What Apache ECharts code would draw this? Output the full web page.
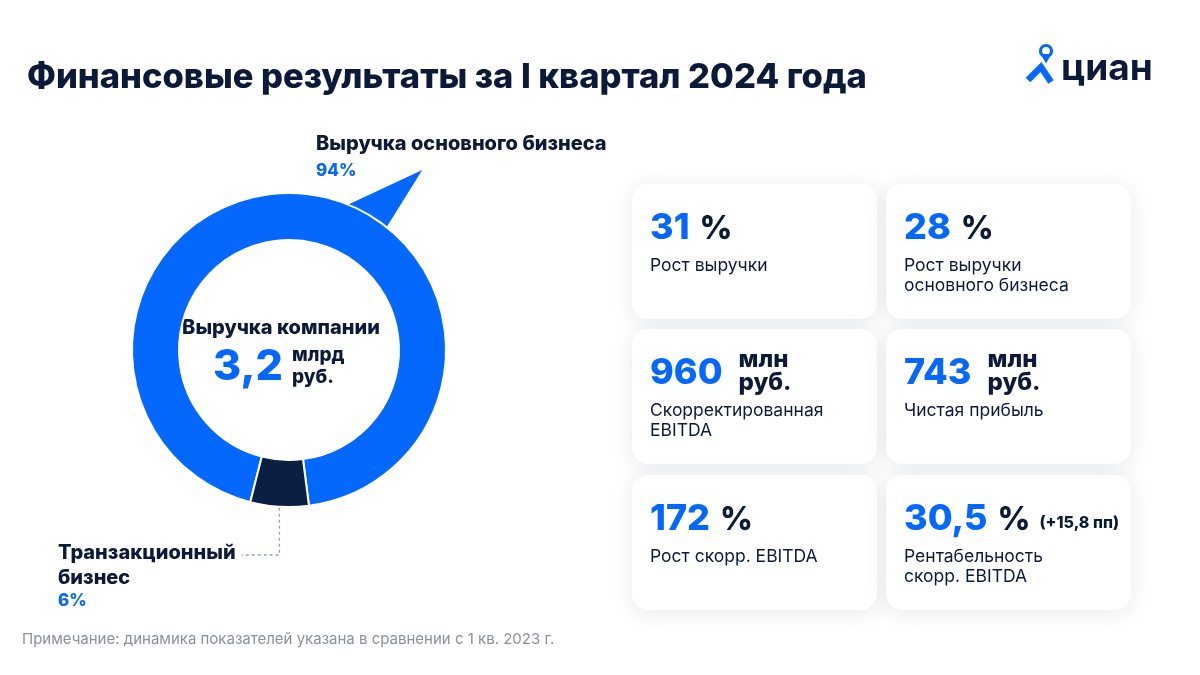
<!DOCTYPE html>
<html><head><meta charset="utf-8">
<script src="https://cdn.jsdelivr.net/npm/echarts@6/dist/echarts.min.js"></script>
<style>html,body{margin:0;padding:0;background:#fff}#c{width:1200px;height:675px}</style>
</head><body><div id="c"></div>
<script>
// ---- data ----
const segNames = ['Выручка основного бизнеса', 'Транзакционный бизнес'];
const segShares = [94, 6];
const totalValue = '3,2';
const totalUnit = ['млрд', 'руб.'];
const kpiValues = ['31', '28', '960', '743', '172', '30,5'];
const kpiUnits = ['%', '%', 'млн\nруб.', 'млн\nруб.', '%', '%'];
const kpiExtras = ['', '', '', '', '', '(+15,8 пп)'];
const kpiLabels = ['Рост выручки', 'Рост выручки\nосновного бизнеса', 'Скорректированная\nEBITDA', 'Чистая прибыль', 'Рост скорр. EBITDA', 'Рентабельность\nскорр. EBITDA'];
const titleText = 'Финансовые результаты за I квартал 2024 года';
const noteText = 'Примечание: динамика показателей указана в сравнении с 1 кв. 2023 г.';

// ---- style ----
const BLUE = '#0468ff', NAVY = '#0c1a3a', DARKSEG = '#0a1f42', GRAY = '#8c909b';
const FONT = 'Inter';
const CX = 289, CY = 350, R0 = 110, R1 = 157;

const cv = document.createElement('canvas').getContext('2d');
function tw(t, size, weight) { cv.font = weight + ' ' + size + 'px ' + FONT; return cv.measureText(t).width; }

const chart = echarts.init(document.getElementById('c'));
const g = [];

// speech pointer
const toXY = (angDeg, r) => [CX + r * Math.cos(angDeg * Math.PI / 180), CY - r * Math.sin(angDeg * Math.PI / 180)];
g.push({ type: 'polygon', shape: { points: [toXY(68, R1 - 10), toXY(67.5, R1 + 1), toXY(53.5, 224), toXY(51.5, R1 - 1), toXY(51, R1 - 10)] }, style: { fill: BLUE }, z: 1 });

// segment labels
g.push({ type: 'text', left: 316, top: 134, style: { text: segNames[0], font: '800 20px ' + FONT, fill: NAVY } });
g.push({ type: 'text', left: 316, top: 162, style: { text: segShares[0] + '%', font: '800 17px ' + FONT, fill: BLUE } });
const smallNameLines = ['Транзакционный', 'бизнес'];
g.push({ type: 'text', left: 58, top: 540, style: { text: smallNameLines.join('\n'), font: '800 20px ' + FONT, fill: NAVY, lineHeight: 25 } });
g.push({ type: 'text', left: 58, top: 592, style: { text: segShares[1] + '%', font: '800 17px ' + FONT, fill: BLUE } });

// leader line from dark segment
const midAng = 277.3 - segShares[1] / 100 * 360 / 2;
const p0 = toXY(midAng, R1);
const lx = 58 + tw(smallNameLines[0], 20, 800) + 6;
g.push({ type: 'polyline', shape: { points: [[p0[0], p0[1] + 1], [p0[0], 555], [lx, 555]] }, style: { stroke: '#93a3c2', lineWidth: 1.3, lineDash: [3, 3], fill: null } });

// center text
g.push({ type: 'text', x: 281, y: 328, style: { text: 'Выручка компании', font: '800 20px ' + FONT, fill: NAVY, align: 'center', verticalAlign: 'middle' } });
g.push({ type: 'text', x: 283, y: 367, style: { text: totalValue, font: '800 43px ' + FONT, fill: BLUE, align: 'right', verticalAlign: 'middle' } });
g.push({ type: 'text', x: 292, y: 366, style: { text: totalUnit.join('\n'), font: '800 19px ' + FONT, fill: NAVY, verticalAlign: 'middle', lineHeight: 22 } });

// cards
const colX = [632, 886], rowY = [184, 329, 475], CW = 245, CH = 135;
kpiValues.forEach((v, i) => {
  const x = colX[i % 2], y = rowY[Math.floor(i / 2)];
  g.push({ type: 'rect', shape: { x: x, y: y, width: CW, height: CH, r: 16 }, style: { fill: '#fff', shadowBlur: 22, shadowColor: 'rgba(20,35,70,0.10)', shadowOffsetY: 3 }, z: 0 });
  const nx = x + 18, ny = y + 44;
  g.push({ type: 'text', x: nx, y: ny, style: { text: v, font: '800 36px ' + FONT, fill: BLUE, verticalAlign: 'middle' }, z: 2 });
  const vw = tw(v, 36, 800);
  const u = kpiUnits[i];
  if (u.indexOf('\n') >= 0) {
    g.push({ type: 'text', x: nx + vw + 16, y: ny - 2, style: { text: u, font: '800 24px ' + FONT, fill: NAVY, verticalAlign: 'middle', lineHeight: 23 }, z: 2 });
  } else {
    g.push({ type: 'text', x: nx + vw + 10, y: ny + 1, style: { text: u, font: '800 32px ' + FONT, fill: NAVY, verticalAlign: 'middle' }, z: 2 });
    if (kpiExtras[i]) {
      const uw = tw(u, 32, 800);
      g.push({ type: 'text', x: nx + vw + 10 + uw + 9, y: ny + 4, style: { text: kpiExtras[i], font: '800 16px ' + FONT, fill: NAVY, verticalAlign: 'middle' }, z: 2 });
    }
  }
  g.push({ type: 'text', x: nx, y: y + 72, style: { text: kpiLabels[i], font: '400 17.5px ' + FONT, fill: NAVY, lineHeight: 20 }, z: 2 });
});

// logo
g.push({ type: 'circle', shape: { cx: 1046, cy: 51, r: 5.5 }, style: { fill: null, stroke: BLUE, lineWidth: 3.2 } });
g.push({ type: 'polygon', shape: { points: [[1040.5, 54], [1046, 63.5], [1051.5, 54]] }, style: { fill: BLUE } });
g.push({ type: 'polyline', shape: { points: [[1028, 80], [1041, 67], [1051, 82]] }, style: { stroke: BLUE, lineWidth: 6.5, fill: null, lineJoin: 'miter' } });
g.push({ type: 'text', left: 1061, top: 50, style: { text: 'циан', font: '700 37px ' + FONT, fill: NAVY } });

// footnote
g.push({ type: 'text', left: 22, top: 632, style: { text: noteText, font: '400 15px ' + FONT, fill: GRAY } });

chart.setOption({
  backgroundColor: '#fff',
  animation: false,
  title: { text: titleText, left: 22, top: 55, textStyle: { fontFamily: FONT, fontWeight: 800, fontSize: 34.5, color: NAVY } },
  series: [{
    type: 'pie', center: [CX, CY], radius: [R0, R1], startAngle: 255.7, clockwise: true,
    label: { show: false }, labelLine: { show: false }, silent: true, z: 2,
    itemStyle: { borderColor: '#fff', borderWidth: 2 },
    data: segNames.map((n, i) => ({ name: n, value: segShares[i], itemStyle: { color: i === 0 ? BLUE : DARKSEG } }))
  }],
  graphic: g
});
</script></body></html>
